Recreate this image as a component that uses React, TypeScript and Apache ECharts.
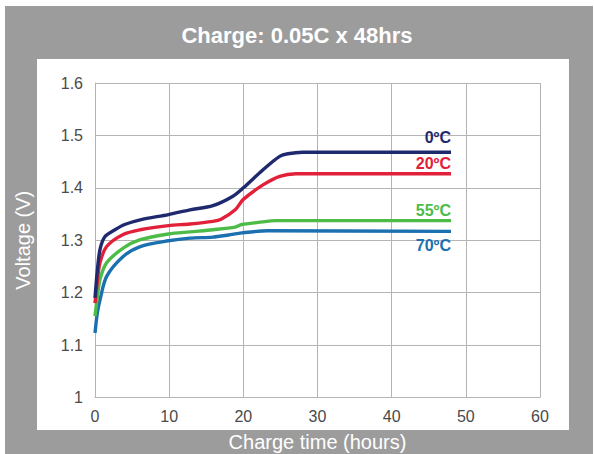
import React, { useEffect, useRef } from "react";
import * as echarts from "echarts";

const titleText = "Charge: 0.05C x 48hrs";
const xAxisName = "Charge time (hours)";
const yAxisName = "Voltage (V)";

const seriesNames = ["0ºC", "20ºC", "55ºC", "70ºC"];
const seriesColors = ["#1f2a6e", "#e2203a", "#4dbb48", "#1b70b0"];

const t0C = [0, 0.3, 0.67, 1.35, 2.7, 4, 6.1, 9.9, 12.8, 15.9, 18.6, 20, 22.7, 24.9, 26, 28, 48];
const v0C = [1.19, 1.24, 1.282, 1.307, 1.32, 1.33, 1.339, 1.349, 1.358, 1.366, 1.384, 1.4, 1.435, 1.46, 1.465, 1.468, 1.468];

const t20C = [0, 0.3, 0.67, 1.57, 3.8, 6.1, 9.9, 12.8, 15.9, 17, 18.9, 20, 22.7, 24.9, 27.1, 48];
const v20C = [1.18, 1.22, 1.257, 1.288, 1.311, 1.32, 1.328, 1.331, 1.336, 1.34, 1.358, 1.378, 1.406, 1.422, 1.427, 1.427];

const t55C = [0, 0.3, 0.67, 1.57, 3.8, 6.1, 9.9, 12.8, 15.9, 18.9, 19.8, 22, 24.4, 48];
const v55C = [1.155, 1.19, 1.225, 1.257, 1.285, 1.301, 1.312, 1.316, 1.32, 1.325, 1.33, 1.334, 1.3375, 1.3375];

const t70C = [0, 0.3, 0.67, 1.57, 3.8, 6.1, 9.9, 12.8, 15.9, 18, 19.8, 23.3, 48];
const v70C = [1.123, 1.16, 1.186, 1.231, 1.269, 1.288, 1.299, 1.304, 1.306, 1.31, 1.314, 1.318, 1.317];

const times = [t0C, t20C, t55C, t70C];
const volts = [v0C, v20C, v55C, v70C];
const labelOffsets = [[0, -15], [0, -10], [0, -10], [0, 14]];

export default function App() {
  const ref = useRef<HTMLDivElement>(null);
  useEffect(() => {
    if (!ref.current) return;
    const chart = echarts.init(ref.current, undefined, { renderer: "svg" });
    const font = "Liberation Sans, Arial, sans-serif";
    const series = seriesNames.map((name, i) => ({
      name,
      type: "line",
      data: times[i].map((t, j) => [t, volts[i][j]]),
      smooth: 0.3,
      showSymbol: false,
      symbol: "none",
      lineStyle: { color: seriesColors[i], width: 3.4 },
      itemStyle: { color: seriesColors[i] },
      endLabel: {
        show: true,
        formatter: name,
        distance: 0,
        align: "right",
        verticalAlign: "middle",
        offset: labelOffsets[i],
        color: seriesColors[i],
        fontFamily: font,
        fontWeight: "bold",
        fontSize: 16,
      },
      z: 10 - i,
    }));
    chart.setOption({
      animation: false,
      backgroundColor: "#ffffff",
      graphic: [
        { type: "rect", shape: { x: 5, y: 6, width: 588, height: 448 }, style: { fill: "#9c9c9c" }, z: -10, silent: true },
        { type: "rect", shape: { x: 37, y: 59, width: 532, height: 371 }, style: { fill: "#ffffff" }, z: -9, silent: true },
      ],
      title: {
        text: titleText,
        left: "center",
        top: 19,
        textStyle: { color: "#ffffff", fontFamily: font, fontWeight: "bold", fontSize: 22 },
      },
      grid: { left: 95, right: 54, top: 83, bottom: 56.5, containLabel: false, outerBoundsMode: "none" },
      xAxis: {
        type: "value",
        min: 0,
        max: 60,
        interval: 10,
        name: xAxisName,
        nameLocation: "middle",
        nameGap: 34,
        nameTextStyle: { color: "#ffffff", fontFamily: font, fontSize: 20 },
        axisLine: { show: true, lineStyle: { color: "#b4b4b4", width: 1 } },
        axisTick: { show: false },
        axisLabel: { color: "#4a4a4a", fontFamily: font, fontSize: 16, margin: 11 },
        splitLine: { show: true, lineStyle: { color: "#b4b4b4", width: 1 } },
      },
      yAxis: {
        type: "value",
        min: 1,
        max: 1.6,
        interval: 0.1,
        name: yAxisName,
        nameLocation: "middle",
        nameGap: 62,
        nameTextStyle: { color: "#ffffff", fontFamily: font, fontSize: 20 },
        axisLine: { show: true, lineStyle: { color: "#b4b4b4", width: 1 } },
        axisTick: { show: false },
        axisLabel: {
          color: "#4a4a4a",
          fontFamily: font,
          fontSize: 16,
          margin: 12,
          formatter: (v: number) => String(Math.round(v * 10) / 10),
        },
        splitLine: { show: true, lineStyle: { color: "#b4b4b4", width: 1 } },
      },
      series,
    });
    return () => chart.dispose();
  }, []);
  return (
    <div
      ref={ref}
      style={{ position: "fixed", left: 0, top: 0, width: 594, height: 454 }}
    />
  );
}
